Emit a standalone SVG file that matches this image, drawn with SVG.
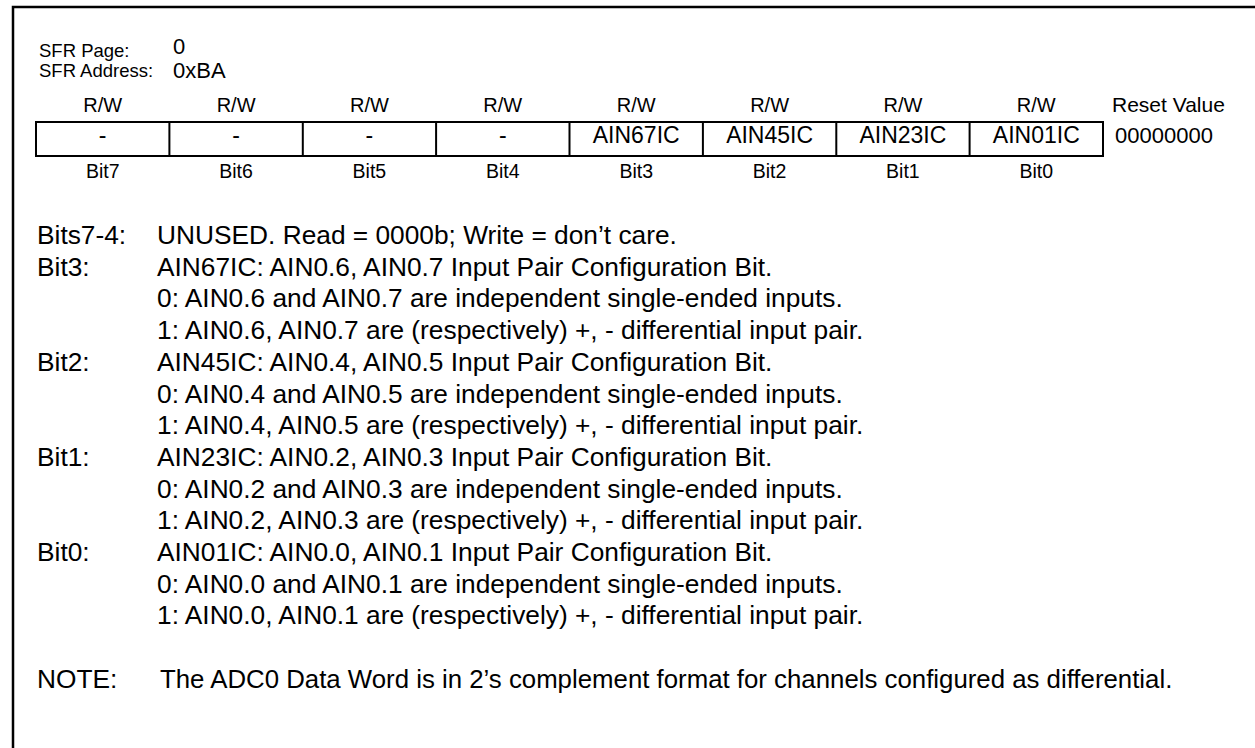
<svg xmlns="http://www.w3.org/2000/svg" width="1255" height="748" viewBox="0 0 1255 748">
<style>
text{font-family:"Liberation Sans",Arial,sans-serif;fill:#000}
.sfr{font-size:18.5px}
.sfrv{font-size:22px}
.rw{font-size:20px;text-anchor:middle}
.cell{font-size:23px;text-anchor:middle}
.bit{font-size:19.5px;text-anchor:middle}
.body{font-size:26.3px}
.ln{stroke:#000;stroke-width:2;fill:none}
</style>
<rect width="1255" height="748" fill="#fff"/>
<g id="frame">
<path d="M13 748 V7 H1255" stroke="#000" stroke-width="2.5" fill="none"/>
</g>
<g id="header">
<text class="sfr" x="39" y="57">SFR Page:</text>
<text class="sfr" x="39" y="77">SFR Address:</text>
<text class="sfrv" x="173" y="53.5">0</text>
<text class="sfrv" x="173" y="78">0xBA</text>
</g>
<g id="access">
<text class="rw" x="102.7" y="112">R/W</text>
<text class="rw" x="236.1" y="112">R/W</text>
<text class="rw" x="369.4" y="112">R/W</text>
<text class="rw" x="502.8" y="112">R/W</text>
<text class="rw" x="636.2" y="112">R/W</text>
<text class="rw" x="769.6" y="112">R/W</text>
<text class="rw" x="902.9" y="112">R/W</text>
<text class="rw" x="1036.3" y="112">R/W</text>
<text x="1112" y="112" style="font-size:21px">Reset Value</text>
</g>
<g id="register">
<rect class="ln" x="36" y="122" width="1067" height="34"/>
<path class="ln" d="M169.4 122V156M302.8 122V156M436.1 122V156M569.5 122V156M702.9 122V156M836.3 122V156M969.6 122V156"/>
<text class="cell" x="102.7" y="143">-</text>
<text class="cell" x="236.1" y="143">-</text>
<text class="cell" x="369.4" y="143">-</text>
<text class="cell" x="502.8" y="143">-</text>
<text class="cell" x="636.2" y="143">AIN67IC</text>
<text class="cell" x="769.6" y="143">AIN45IC</text>
<text class="cell" x="902.9" y="143">AIN23IC</text>
<text class="cell" x="1036.3" y="143">AIN01IC</text>
<text x="1115" y="143" style="font-size:22px">00000000</text>
</g>
<g id="bitnums">
<text class="bit" x="102.7" y="178">Bit7</text>
<text class="bit" x="236.1" y="178">Bit6</text>
<text class="bit" x="369.4" y="178">Bit5</text>
<text class="bit" x="502.8" y="178">Bit4</text>
<text class="bit" x="636.2" y="178">Bit3</text>
<text class="bit" x="769.6" y="178">Bit2</text>
<text class="bit" x="902.9" y="178">Bit1</text>
<text class="bit" x="1036.3" y="178">Bit0</text>
</g>
<g id="description">
<text class="body" x="37" y="244">Bits7-4:</text>
<text class="body" x="157" y="244">UNUSED. Read = 0000b; Write = don’t care.</text>
<text class="body" x="37" y="275.7">Bit3:</text>
<text class="body" x="157" y="275.7">AIN67IC: AIN0.6, AIN0.7 Input Pair Configuration Bit.</text>
<text class="body" x="157" y="307.4">0: AIN0.6 and AIN0.7 are independent single-ended inputs.</text>
<text class="body" x="157" y="339.1">1: AIN0.6, AIN0.7 are (respectively) +, - differential input pair.</text>
<text class="body" x="37" y="370.8">Bit2:</text>
<text class="body" x="157" y="370.8">AIN45IC: AIN0.4, AIN0.5 Input Pair Configuration Bit.</text>
<text class="body" x="157" y="402.5">0: AIN0.4 and AIN0.5 are independent single-ended inputs.</text>
<text class="body" x="157" y="434.2">1: AIN0.4, AIN0.5 are (respectively) +, - differential input pair.</text>
<text class="body" x="37" y="465.9">Bit1:</text>
<text class="body" x="157" y="465.9">AIN23IC: AIN0.2, AIN0.3 Input Pair Configuration Bit.</text>
<text class="body" x="157" y="497.6">0: AIN0.2 and AIN0.3 are independent single-ended inputs.</text>
<text class="body" x="157" y="529.3">1: AIN0.2, AIN0.3 are (respectively) +, - differential input pair.</text>
<text class="body" x="37" y="561">Bit0:</text>
<text class="body" x="157" y="561">AIN01IC: AIN0.0, AIN0.1 Input Pair Configuration Bit.</text>
<text class="body" x="157" y="592.7">0: AIN0.0 and AIN0.1 are independent single-ended inputs.</text>
<text class="body" x="157" y="624.4">1: AIN0.0, AIN0.1 are (respectively) +, - differential input pair.</text>
<text class="body" x="37" y="688">NOTE:</text>
<text x="160" y="688" style="font-size:25.8px">The ADC0 Data Word is in 2’s complement format for channels configured as differential.</text>
</g>
</svg>
